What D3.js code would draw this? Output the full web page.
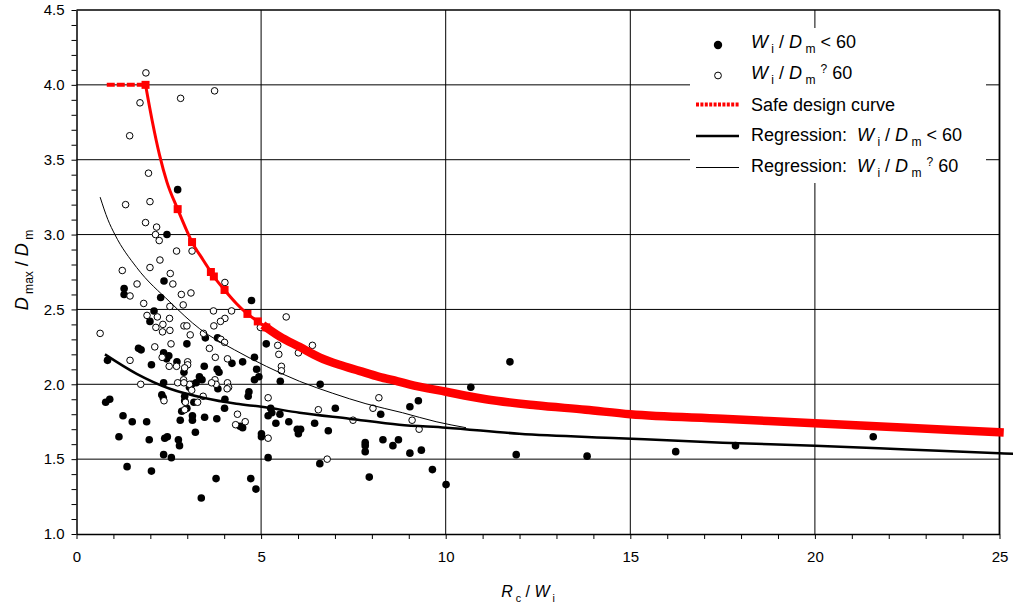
<!DOCTYPE html>
<html><head><meta charset="utf-8">
<script src="https://cdn.jsdelivr.net/npm/d3@7"></script>
<style>
body{margin:0;background:#fff}
svg{display:block;font-family:Arial,"Liberation Sans",sans-serif}
text{white-space:pre}
</style>
</head><body>
<svg id="c" width="1013" height="605"></svg>
<script>
// ---------- data ----------
const filledX=[2.74,2.45,2.37,1.29,1.29,2.28,4.74,2.10,1.99,3.49,3.82,5.14,2.99,1.68,1.75,2.36,2.50,2.44,4.82,4.50,4.21,0.84,2.03,2.72,3.46,3.81,3.86,4.88,4.94,4.82,2.91,3.33,3.40,3.06,3.12,3.24,3.83,2.36,2.31,2.35,2.93,2.93,4.67,4.65,0.79,0.90,4.02,2.99,3.18,1.26,1.51,1.90,1.15,1.97,2.39,2.46,2.76,2.79,2.36,2.57,1.37,2.03,3.78,4.72,4.86,3.38,2.85,3.14,3.14,2.81,3.22,3.47,3.80,4.01,4.43,4.50,5.01,5.01,5.19,5.19,5.26,5.29,5.40,5.51,5.75,5.98,6.01,6.07,6.45,7.01,6.82,8.24,7.82,7.82,7.82,8.30,8.57,8.72,6.59,7.93,5.52,6.60,11.74,10.68,9.03,9.26,9.03,9.34,9.64,10.01,11.91,13.83,16.23,17.85,21.58];
const filledY=[3.30,3.00,2.69,2.64,2.60,2.58,2.56,2.49,2.42,2.31,2.31,2.27,2.27,2.24,2.23,2.21,2.19,2.17,2.18,2.15,2.14,2.16,2.13,2.15,2.12,2.10,2.08,2.10,2.05,2.03,2.08,2.05,2.03,1.98,2.00,2.01,1.97,2.01,1.93,1.91,1.92,1.89,1.95,1.92,1.88,1.90,1.90,1.84,1.88,1.79,1.75,1.75,1.65,1.63,1.64,1.65,1.63,1.59,1.53,1.51,1.45,1.42,1.37,1.37,1.30,1.24,1.82,1.79,1.76,1.76,1.68,1.78,1.77,1.84,1.72,1.71,1.67,1.65,1.51,1.79,1.84,1.81,1.74,1.80,1.75,1.70,1.67,1.70,1.74,1.84,1.69,1.80,1.61,1.59,1.55,1.63,1.59,1.63,1.47,1.38,2.02,2.00,2.15,1.98,1.85,1.89,1.54,1.56,1.43,1.33,1.53,1.52,1.55,1.59,1.65];

const openX=[1.88,3.74,1.72,2.82,1.44,1.95,1.33,1.99,1.87,2.17,2.14,2.24,2.71,3.13,1.24,1.99,2.26,2.54,1.64,2.61,1.45,2.84,3.10,1.82,2.89,2.53,4.02,3.71,4.20,1.91,2.19,2.52,2.34,2.15,2.91,2.99,4.02,3.90,3.72,0.64,2.33,2.53,3.44,3.91,4.01,3.08,2.56,2.12,2.32,3.60,3.76,4.09,1.45,3.01,3.01,2.51,2.71,2.93,2.90,2.74,3.06,2.91,3.75,3.78,3.66,4.09,4.12,4.08,1.74,3.12,2.37,2.95,3.28,3.43,5.19,2.93,4.36,4.31,4.57,5.19,6.55,7.49,8.03,6.79,5.68,4.98,5.45,5.48,6.39,6.01,5.55,5.55,8.19,9.09,9.28];
const openY=[4.08,3.96,3.88,3.91,3.66,3.41,3.20,3.22,3.08,3.05,3.00,2.96,2.89,2.89,2.76,2.78,2.83,2.74,2.67,2.67,2.59,2.60,2.61,2.54,2.53,2.52,2.68,2.49,2.49,2.46,2.45,2.44,2.40,2.38,2.39,2.39,2.44,2.42,2.39,2.34,2.35,2.36,2.34,2.30,2.28,2.33,2.27,2.25,2.18,2.24,2.18,2.17,2.16,2.15,2.13,2.12,2.12,2.11,2.03,2.01,2.00,2.01,2.03,2.00,2.01,2.01,1.98,1.97,2.00,1.96,1.89,1.88,1.88,1.92,1.91,1.83,1.80,1.73,1.75,1.64,1.83,1.76,1.84,1.50,2.45,2.38,2.26,2.20,2.26,2.21,2.12,2.09,1.91,1.76,1.70];

// safe design curve
const safeFlatX=[0.82,1.87];
const safeFlatY=[4.00,4.00];
const safeX=[1.87,2.05,2.25,2.45,2.74,2.98,3.13,3.43,3.64,3.72,4.01,4.33,4.63,4.91,5.14,5.50,6.04,6.58,7.12,7.66,8.20,8.70,9.01,10.01,11.09,12.44,13.79,15.0,17.5,20.0,22.5,25.0];
const safeY=[4.00,3.76,3.53,3.35,3.17,3.03,2.95,2.83,2.75,2.72,2.63,2.54,2.47,2.42,2.38,2.32,2.25,2.18,2.13,2.09,2.05,2.02,2.00,1.95,1.90,1.86,1.83,1.80,1.77,1.74,1.71,1.68];
const safeMarkX=[1.87,2.74,3.13,3.64,3.72,4.01,4.63,4.91,5.14];
const safeMarkY=[4.00,3.17,2.95,2.75,2.72,2.63,2.47,2.42,2.38];

// regression Wi/Dm < 60 (thick)
const reg1X=[0.77,1.63,2.53,3.43,4.33,5.01,6.04,7.39,8.74,10.01,11.99,14.69,17.5,20.0,22.5,25.0,25.4];
const reg1Y=[2.20,2.07,1.97,1.91,1.87,1.85,1.81,1.77,1.73,1.71,1.67,1.64,1.61,1.59,1.565,1.54,1.535];
// regression Wi/Dm ? 60 (thin)
const reg2X=[0.64,0.85,1.04,1.63,2.53,3.34,4.28,5.14,6.04,6.94,7.84,8.83,9.74,10.55];
const reg2Y=[3.25,3.10,3.00,2.78,2.55,2.37,2.23,2.12,2.02,1.94,1.87,1.81,1.75,1.71];

const xTickLabels=[0,5,10,15,20,25];
const yTickLabels=[1.0,1.5,2.0,2.5,3.0,3.5,4.0,4.5];

// ---------- chart ----------
const svg=d3.select("#c");
const x=d3.scaleLinear().domain([0,25]).range([76.5,999.5]);
const y=d3.scaleLinear().domain([1,4.5]).range([534,10]);

// grid
const grid=svg.append("g").attr("stroke","#000").attr("stroke-width",1);
xTickLabels.filter(v=>v>0&&v<25).forEach(v=>{
  grid.append("line").attr("x1",x(v)).attr("x2",x(v)).attr("y1",y(1)).attr("y2",y(4.5));
});
yTickLabels.filter(v=>v>1&&v<4.5).forEach(v=>{
  grid.append("line").attr("x1",x(0)).attr("x2",x(25)).attr("y1",y(v)).attr("y2",y(v));
});
// frame top & right
svg.append("line").attr("x1",x(0)).attr("x2",x(25)).attr("y1",y(4.5)).attr("y2",y(4.5)).attr("stroke","#000").attr("stroke-width",1.5);
svg.append("line").attr("x1",x(25)).attr("x2",x(25)).attr("y1",y(4.5)).attr("y2",y(1)).attr("stroke","#000").attr("stroke-width",1.8);

// axes
const fmt=d3.format(".1f");
const yAxis=d3.axisLeft(y).tickValues(d3.range(10,46).map(d=>d/10)).tickSize(5).tickSizeOuter(0).tickPadding(7)
  .tickFormat(d=>yTickLabels.some(v=>Math.abs(v-d)<1e-6)?fmt(d):"");
const xAxis=d3.axisBottom(x).tickValues(d3.range(0,26)).tickSize(5).tickSizeOuter(0).tickPadding(12)
  .tickFormat(d=>xTickLabels.includes(d)?String(d):"");
const gy=svg.append("g").attr("transform",`translate(${x(0)},0)`).call(yAxis);
const gx=svg.append("g").attr("transform",`translate(0,${y(1)})`).call(xAxis);
[gx,gy].forEach(g=>{
  g.attr("font-family",null).attr("font-size",null);
  g.selectAll("path").attr("stroke","#000").attr("stroke-width",1.5);
  g.selectAll("line").attr("stroke","#000").attr("stroke-width",1);
  g.selectAll("text").attr("fill","#000").style("font-size","15px");
});

// scatter
const filled=filledX.map((v,i)=>[v,filledY[i]]);
const open=openX.map((v,i)=>[v,openY[i]]);
svg.append("g").selectAll("circle").data(filled).join("circle")
  .attr("cx",d=>x(d[0])).attr("cy",d=>y(d[1])).attr("r",3.8).attr("fill","#000");
svg.append("g").selectAll("circle").data(open).join("circle")
  .attr("cx",d=>x(d[0])).attr("cy",d=>y(d[1])).attr("r",3.3).attr("fill","#fff").attr("stroke","#000").attr("stroke-width",1);

// safe design curve
const line=d3.line().x(d=>x(d[0])).y(d=>y(d[1])).curve(d3.curveMonotoneX);
const lineStraight=d3.line().x(d=>x(d[0])).y(d=>y(d[1]));
const safe=safeX.map((v,i)=>[v,safeY[i]]);
svg.append("path").attr("d",lineStraight(safeFlatX.map((v,i)=>[v,safeFlatY[i]])))
  .attr("fill","none").attr("stroke","#f00").attr("stroke-width",4).attr("stroke-dasharray","8,2");
svg.append("path").attr("d",line(safe)).attr("fill","none").attr("stroke","#f00").attr("stroke-width",3);
svg.append("path").attr("d",line(safe.filter(d=>d[0]>=safeMarkX[safeMarkX.length-1])))
  .attr("fill","none").attr("stroke","#f00").attr("stroke-width",8.5).attr("stroke-linecap","square");
svg.append("g").selectAll("rect").data(safeMarkX.map((v,i)=>[v,safeMarkY[i]])).join("rect")
  .attr("x",d=>x(d[0])-4).attr("y",d=>y(d[1])-4).attr("width",8).attr("height",8).attr("fill","#f00");

// regressions
svg.append("path").attr("d",line(reg2X.map((v,i)=>[v,reg2Y[i]]))).attr("fill","none").attr("stroke","#000").attr("stroke-width",1);
svg.append("path").attr("d",line(reg1X.map((v,i)=>[v,reg1Y[i]]))).attr("fill","none").attr("stroke","#000").attr("stroke-width",2.5);

// rich text helper
function rich(g,x0,y0,parts,size,anchor){
  const t=g.append("text").attr("x",x0).attr("y",y0).attr("font-size",size).attr("text-anchor",anchor||"start").attr("fill","#000");
  let cur=0;
  parts.forEach(p=>{
    const shift=p.sub?size*0.3:(p.sup?-size*0.35:0);
    const ts=t.append("tspan").text(p.t).attr("dy",shift-cur);
    cur=shift;
    if(p.it) ts.attr("font-style","italic");
    if(p.sub||p.sup) ts.attr("font-size",size*0.67);
  });
  return t;
}

// axis titles
rich(svg,528,597,[{t:"R",it:true},{t:" c",sub:true},{t:" / "},{t:"W",it:true},{t:" i",sub:true}],16,"middle");
const yt=svg.append("g").attr("transform","translate(28,270) rotate(-90)");
rich(yt,0,0,[{t:"D",it:true},{t:" max",sub:true},{t:" / "},{t:"D",it:true},{t:" m",sub:true}],18,"middle");

// legend
const lg=svg.append("g");
lg.append("rect").attr("x",690).attr("y",28).attr("width",296).attr("height",155).attr("fill","#fff");
lg.append("circle").attr("cx",718).attr("cy",45).attr("r",4.2).attr("fill","#000");
lg.append("circle").attr("cx",718).attr("cy",75.5).attr("r",3.4).attr("fill","#fff").attr("stroke","#000");
lg.append("line").attr("x1",696).attr("x2",740).attr("y1",104.5).attr("y2",104.5).attr("stroke","#f00").attr("stroke-width",4).attr("stroke-dasharray","3,1.4");
lg.append("line").attr("x1",696).attr("x2",739).attr("y1",136).attr("y2",136).attr("stroke","#000").attr("stroke-width",2.5);
lg.append("line").attr("x1",696).attr("x2",739).attr("y1",167.5).attr("y2",167.5).attr("stroke","#000").attr("stroke-width",1);
const lt=18;
rich(lg,751,48,[{t:"W",it:true},{t:" i",sub:true},{t:" / "},{t:"D",it:true},{t:" m",sub:true},{t:" < 60"}],lt);
rich(lg,751,79,[{t:"W",it:true},{t:" i",sub:true},{t:" / "},{t:"D",it:true},{t:" m",sub:true},{t:" "},{t:"?",sup:true},{t:" 60"}],lt);
rich(lg,751,110.5,[{t:"Safe design curve"}],lt);
rich(lg,751,141,[{t:"Regression:  "},{t:"W",it:true},{t:" i",sub:true},{t:" / "},{t:"D",it:true},{t:" m",sub:true},{t:" < 60"}],lt);
rich(lg,751,172,[{t:"Regression:  "},{t:"W",it:true},{t:" i",sub:true},{t:" / "},{t:"D",it:true},{t:" m",sub:true},{t:" "},{t:"?",sup:true},{t:" 60"}],lt);
</script>
</body></html>
